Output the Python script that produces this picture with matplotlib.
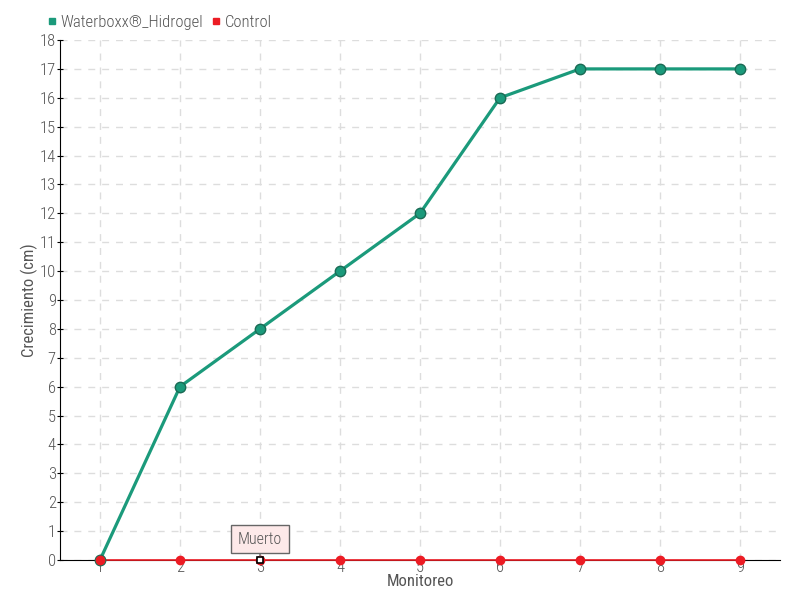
import matplotlib
matplotlib.use("Agg")
import matplotlib.pyplot as plt
from matplotlib.lines import Line2D

plt.rcParams['font.family'] = ['Roboto Condensed', 'Roboto', 'DejaVu Sans']
plt.rcParams['font.weight'] = 'light'

GREEN = "#1b9a7b"; RED = "#ec1c24"; TXT = "#555555"; GRID = "#dddddd"

monitoreo = [1, 2, 3, 4, 5, 6, 7, 8, 9]
waterboxx = [0, 6, 8, 10, 12, 16, 17, 17, 17]
control = [0, 0, 0, 0, 0, 0, 0, 0, 0]
yticks = list(range(0, 19))

fig = plt.figure(figsize=(8, 6), dpi=100)
ax = fig.add_axes([0.075, 0.0667, 0.9, 0.8666])

ax.plot(monitoreo, control, color=RED, lw=1.2, marker="o", ms=6,
        mfc=RED, mec=RED, zorder=5, clip_on=False)
ax.plot(monitoreo, waterboxx, color=GREEN, lw=2.3, marker="o", ms=7.5,
        mfc=GREEN, mec="#1a6b55", mew=1, zorder=6, clip_on=False)
ax.plot(monitoreo[0], control[0], marker="o", ms=6, mfc=RED, mec=RED,
        zorder=7, clip_on=False)
# punto de control anotado
ax.plot(monitoreo[2], control[2], marker="s", ms=4.5, mfc="white", mec="black",
        mew=1.2, zorder=8, clip_on=False)

ax.annotate("Muerto", xy=(monitoreo[2], control[2]), xytext=(0, 15),
            textcoords="offset points", ha="center", va="center",
            fontsize=11.5, color=TXT,
            bbox=dict(boxstyle="square,pad=0.4", fc="#fde9e9", ec="#666666", lw=1),
            arrowprops=dict(arrowstyle="-", color="#666666", lw=1, shrinkA=0, shrinkB=3),
            zorder=9)

ax.set_xlim(0.5, 9.5)
ax.set_ylim(0, 18)
ax.set_xticks(monitoreo)
ax.set_yticks(yticks)
ax.tick_params(axis="x", length=0, colors=TXT, labelsize=12, pad=0)
ax.tick_params(axis="y", length=4, direction="inout", color="black", labelcolor=TXT, labelsize=12, pad=1)
ax.grid(True, color=GRID, ls=(0, (5, 5)), lw=1)
ax.set_axisbelow(True)
for s in ["top", "right"]:
    ax.spines[s].set_visible(False)
ax.spines["left"].set_color("black")
ax.spines["bottom"].set_color("black")
ax.set_xlabel("Monitoreo", color=TXT, fontsize=12, labelpad=-1)
ax.set_ylabel("Crecimiento (cm)", color=TXT, fontsize=12, labelpad=1)

handles = [Line2D([], [], ls="none", marker="s", ms=5, color=GREEN),
           Line2D([], [], ls="none", marker="s", ms=5, color=RED)]
fig.legend(handles, ["Waterboxx®_Hidrogel", "Control"], loc="upper left",
           bbox_to_anchor=(0.04, 1.0), ncol=2, frameon=False, fontsize=12,
           handlelength=0.6, handletextpad=0.2, columnspacing=0.5,
           labelcolor=TXT)

fig.savefig("out.png", dpi=100)
